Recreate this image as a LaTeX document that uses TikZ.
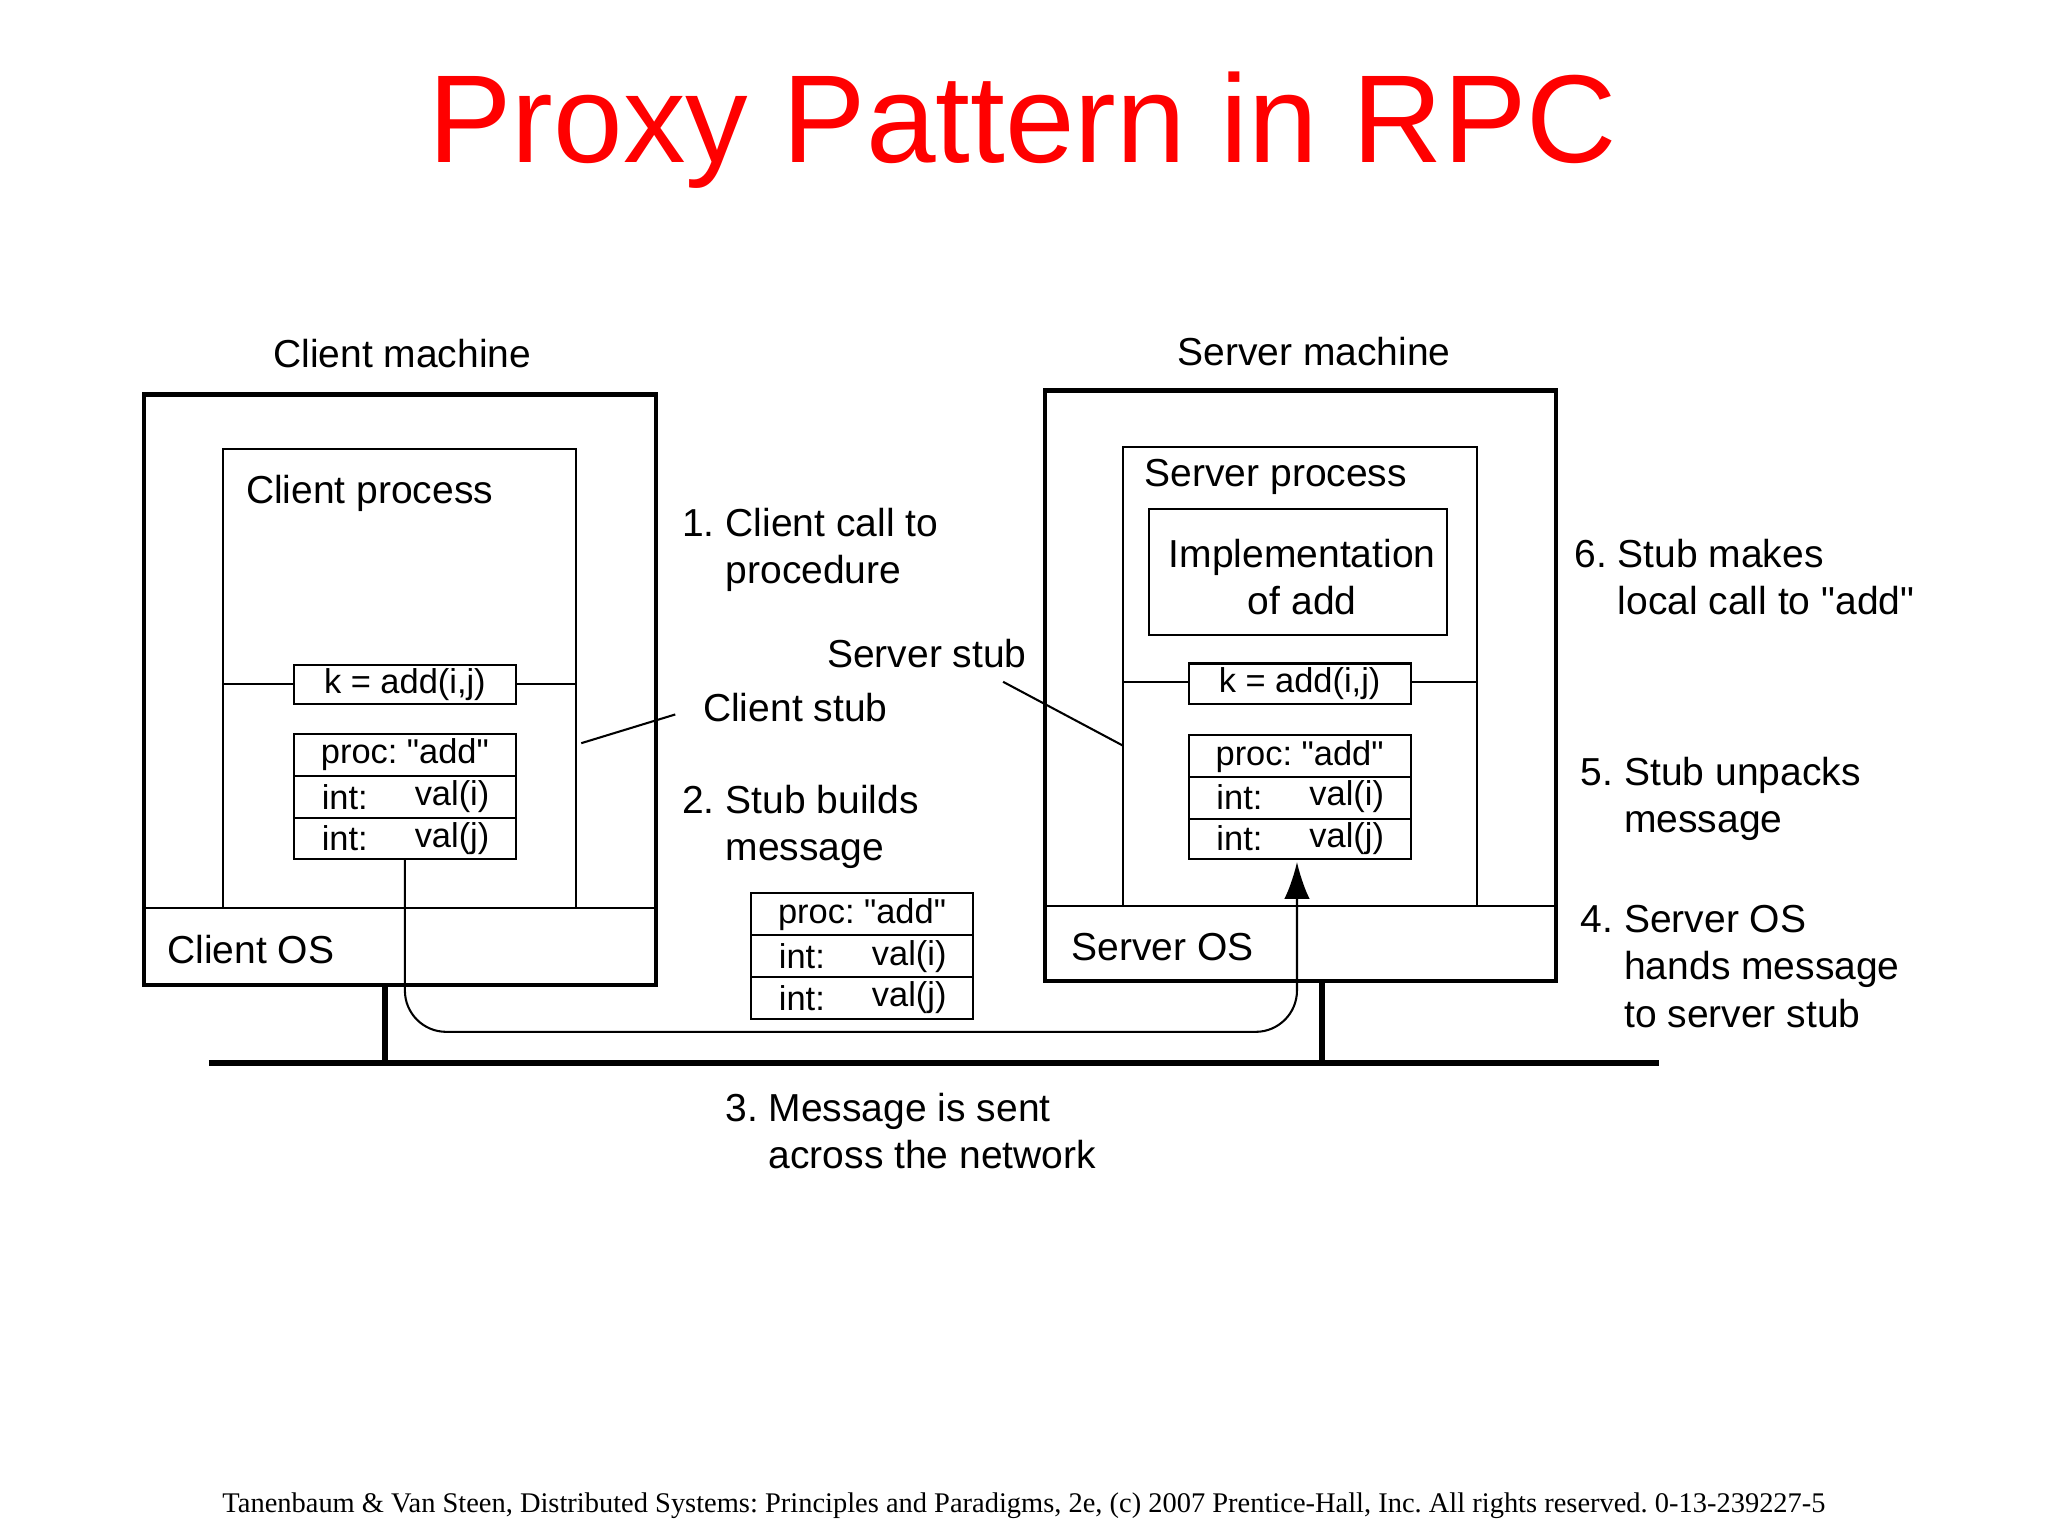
\documentclass[tikz,border=0pt]{standalone}
\usepackage{fontspec}
\setmainfont{Liberation Sans}
\newfontfamily\footfont{Liberation Serif}
\usetikzlibrary{arrows.meta}
\newcommand{\qq}{\textquotedbl}
\frenchspacing
\begin{document}
\begin{tikzpicture}[x=0.02cm,y=-0.02cm,
  thickbox/.style={draw,line width=1.8pt},
  thinbox/.style={draw,line width=0.9pt},
  lbl/.style={font=\fontsize{17}{20.5}\selectfont,align=left,anchor=west,inner sep=0pt},
  bx/.style={font=\fontsize{15}{18}\selectfont,inner sep=0pt}]
\useasboundingbox (0,0) rectangle (1568,1176);
\node[text=red,font=\fontsize{54.5}{60}\selectfont] (title) at (783,100) {Proxy Pattern in RPC};
% client
\node[lbl,anchor=center] (cm) at (308,271) {Client machine};
\draw[thickbox] (110,302) rectangle (502,754);
\draw[thinbox] (110,695) -- (502,695);
\node[lbl,anchor=center] (cos) at (192,727) {Client OS};
\draw[thinbox] (171,695) -- (171,344) -- (441,344) -- (441,695);
\node[lbl] (cp) at (188,378) {Client process};
\draw[thinbox] (171,524) -- (225,524) (395,524) -- (441,524);
\draw[thinbox] (225,509) rectangle (395,539);
\node[bx] (ck) at (310,524) {k = add(i,j)};
\draw[thinbox] (225,562) rectangle (395,658) (225,594) -- (395,594) (225,626) -- (395,626);
\node[bx] at (310,578) {proc: \qq add\qq};
\node[bx,anchor=west] at (246,610) {int:};
\node[bx,anchor=east] at (375,610) {val(i)};
\node[bx,anchor=west] at (246,642) {int:};
\node[bx,anchor=east] at (375,642) {val(j)};
\node[lbl] (cs) at (538,542) {Client stub};
\draw[thinbox] (445,569) -- (517,547);
% server
\node[lbl,anchor=center] (sm) at (1006,269) {Server machine};
\draw[thickbox] (800,299) rectangle (1191,751);
\draw[thinbox] (800,694) -- (1191,694);
\node[lbl,anchor=center] (sos) at (890,725) {Server OS};
\draw[thinbox] (860,694) -- (860,342) -- (1131,342) -- (1131,694);
\node[lbl] (sp) at (876,365) {Server process};
\draw[thinbox] (880,390) rectangle (1108,486);
\node[lbl,anchor=center,align=center] (impl) at (997,442) {Implementation\\of add};
\draw[thinbox] (860,522) -- (910,522) (1080,522) -- (1131,522);
\draw[thinbox] (910,508) rectangle (1080,539);
\node[bx] (sk) at (995,523) {k = add(i,j)};
\draw[thinbox] (910,563) rectangle (1080,658) (910,595) -- (1080,595) (910,627) -- (1080,627);
\node[bx] at (995,579) {proc: \qq add\qq};
\node[bx,anchor=west] at (931,610) {int:};
\node[bx,anchor=east] at (1060,610) {val(i)};
\node[bx,anchor=west] at (931,642) {int:};
\node[bx,anchor=east] at (1060,642) {val(j)};
\node[lbl] (ss) at (633,500) {Server stub};
\draw[thinbox] (768,522) -- (860,571);
% middle message
\draw[thinbox] (575,684) rectangle (745,780) (575,716) -- (745,716) (575,748) -- (745,748);
\node[bx] at (660,700) {proc: \qq add\qq};
\node[bx,anchor=west] at (596,732) {int:};
\node[bx,anchor=east] at (725,732) {val(i)};
\node[bx,anchor=west] at (596,764) {int:};
\node[bx,anchor=east] at (725,764) {val(j)};
% network
\draw[line width=2.6pt] (160,814) -- (1270,814);
\draw[line width=2.6pt] (295,754) -- (295,814) (1012,751) -- (1012,814);
\draw[thinbox,rounded corners=18,-{Latex[length=16pt,width=11pt]}] (310,658) -- (310,790) -- (993,790) -- (993,660);
% steps
\node[lbl] (s1) at (522,421) {1. Client call to\\\phantom{1. }procedure};
\node[lbl] (s2) at (522,633) {2. Stub builds\\\phantom{2. }message};
\node[lbl] (s3) at (555,866) {3. Message is sent\\\phantom{3. }across the network};
\node[lbl] (s4) at (1210,740) {4. Server OS\\\phantom{4. }hands message\\\phantom{4. }to server stub};
\node[lbl] (s5) at (1210,612) {5. Stub unpacks\\\phantom{5. }message};
\node[lbl] (s6) at (1205,442) {6. Stub makes\\\phantom{6. }local call to \qq add\qq};
\node[font=\footfont\fontsize{12.4}{15}\selectfont] (foot) at (784,1153) {Tanenbaum \& Van Steen, Distributed Systems: Principles and Paradigms, 2e, (c) 2007 Prentice-Hall, Inc. All rights reserved. 0-13-239227-5};
\end{tikzpicture}
\end{document}
